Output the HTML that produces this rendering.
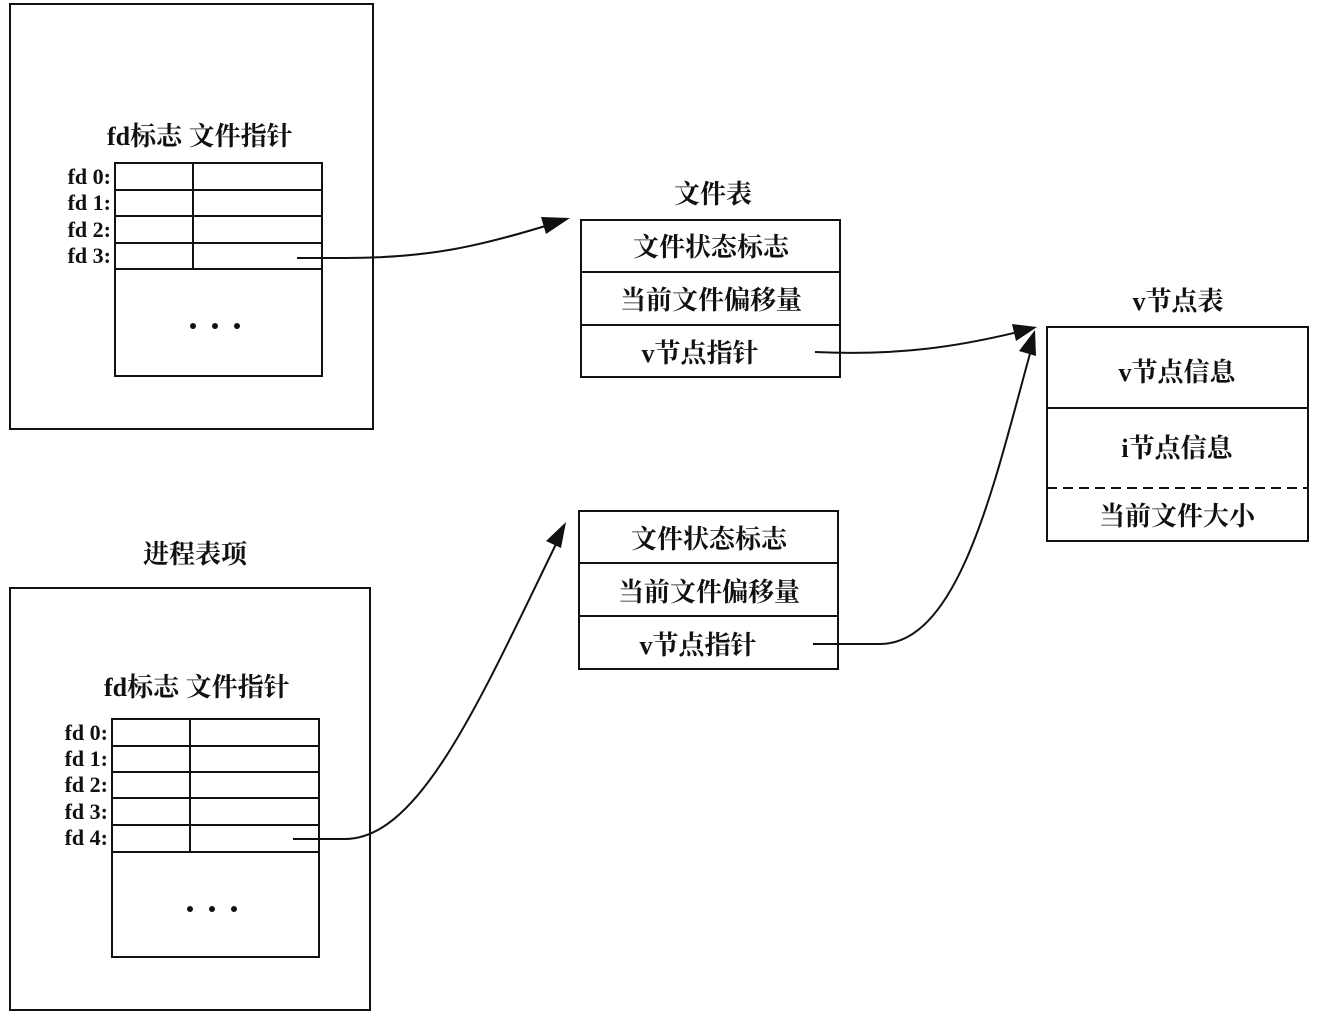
<!DOCTYPE html>
<html><head><meta charset="utf-8"><style>
html,body{margin:0;padding:0;background:#fff;}
svg{display:block;}
text{font-family:"Liberation Serif","Noto Serif CJK SC",serif;fill:#111;font-weight:bold;}
</style></head><body>
<svg width="1330" height="1012" viewBox="0 0 1330 1012" xmlns="http://www.w3.org/2000/svg">
<defs>
<marker id="ah" viewBox="0 0 10 10" refX="10" refY="5" markerWidth="10" markerHeight="8" markerUnits="userSpaceOnUse" orient="auto" style="overflow:visible">
</marker>
</defs>
<g fill="none" stroke="#111" stroke-width="2">
<!-- top process box -->
<rect x="10" y="4" width="363" height="425"/>
<rect x="115" y="163" width="207" height="213"/>
<line x1="115" y1="190" x2="322" y2="190"/>
<line x1="115" y1="216" x2="322" y2="216"/>
<line x1="115" y1="243" x2="322" y2="243"/>
<line x1="115" y1="269" x2="322" y2="269"/>
<line x1="193" y1="163" x2="193" y2="269"/>
<!-- bottom process box -->
<rect x="10" y="588" width="360" height="422"/>
<rect x="112" y="719" width="207" height="238"/>
<line x1="112" y1="746" x2="319" y2="746"/>
<line x1="112" y1="772" x2="319" y2="772"/>
<line x1="112" y1="798" x2="319" y2="798"/>
<line x1="112" y1="825" x2="319" y2="825"/>
<line x1="112" y1="852" x2="319" y2="852"/>
<line x1="190" y1="719" x2="190" y2="852"/>
<!-- file tables -->
<rect x="581" y="220" width="259" height="157"/>
<line x1="581" y1="272" x2="840" y2="272"/>
<line x1="581" y1="325" x2="840" y2="325"/>
<rect x="579" y="511" width="259" height="158"/>
<line x1="579" y1="563" x2="838" y2="563"/>
<line x1="579" y1="616" x2="838" y2="616"/>
<!-- vnode table -->
<rect x="1047" y="327" width="261" height="214"/>
<line x1="1047" y1="408" x2="1308" y2="408"/>
<line x1="1047" y1="488" x2="1308" y2="488" stroke-dasharray="10,6"/>
<!-- arrows -->
<path d="M297,258 L345,258 C430,258 480,246 552,224"/>
<path d="M815,352 C900,356 960,346 1018,332"/>
<path d="M293,839 L345,839 C420,839 480,700 558,540"/>
<path d="M813,644 L880,644 C960,644 995,480 1031,350"/>
</g>
<g fill="#111">
<polygon points="570,218 546,234 541,217"/>
<polygon points="1037,327 1016,341 1012,324"/>
<polygon points="566,522 561,548 546,541"/>
<polygon points="1035,330 1036,356 1019,351"/>
<circle cx="193" cy="326" r="3"/><circle cx="215" cy="326" r="3"/><circle cx="237" cy="326" r="3"/>
<circle cx="190" cy="909" r="3"/><circle cx="212" cy="909" r="3"/><circle cx="234" cy="909" r="3"/>
</g>
<g font-size="26">
<text x="107" y="145">fd标志 文件指针</text>
<text x="104" y="696">fd标志 文件指针</text>
<text x="195" y="563" text-anchor="middle">进程表项</text>
<text x="713" y="203" text-anchor="middle">文件表</text>
<text x="1178" y="310" text-anchor="middle">v节点表</text>
<text x="711" y="256" text-anchor="middle">文件状态标志</text>
<text x="711" y="309" text-anchor="middle">当前文件偏移量</text>
<text x="700" y="362" text-anchor="middle">v节点指针</text>
<text x="709" y="548" text-anchor="middle">文件状态标志</text>
<text x="709" y="601" text-anchor="middle">当前文件偏移量</text>
<text x="698" y="654" text-anchor="middle">v节点指针</text>
<text x="1177" y="381" text-anchor="middle">v节点信息</text>
<text x="1177" y="457" text-anchor="middle">i节点信息</text>
<text x="1177" y="525" text-anchor="middle">当前文件大小</text>
</g>
<g font-size="22" text-anchor="end">
<text x="111" y="184">fd 0:</text>
<text x="111" y="210">fd 1:</text>
<text x="111" y="237">fd 2:</text>
<text x="111" y="263">fd 3:</text>
<text x="108" y="740">fd 0:</text>
<text x="108" y="766">fd 1:</text>
<text x="108" y="792">fd 2:</text>
<text x="108" y="819">fd 3:</text>
<text x="108" y="845">fd 4:</text>
</g>
</svg>
</body></html>
